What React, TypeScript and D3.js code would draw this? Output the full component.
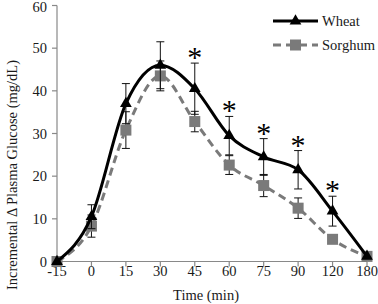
import { useEffect, useRef } from "react";
import * as d3 from "d3";

const times: string[] = ["-15", "0", "15", "30", "45", "60", "75", "90", "120", "180"];
const wheat: number[] = [0, 10.5, 37, 46, 40.5, 29.5, 24.5, 21.5, 11.8, 1.2];
const wheatErr: number[] = [0, 2.8, 4.7, 5.5, 6, 4.5, 4.3, 4.5, 3.5, 0];
const sorghum: number[] = [0, 8.3, 30.8, 43.5, 32.8, 22.6, 17.8, 12.5, 5.2, 1.2];
const sorghumErr: number[] = [0, 2.6, 4.3, 3.5, 2.4, 2.2, 2.6, 2.4, 0, 0];
const significant: string[] = ["45", "60", "75", "90", "120"];
const yTicks: number[] = [0, 10, 20, 30, 40, 50, 60];

const FONT = "'Liberation Serif', 'Times New Roman', serif";
const AXIS = "#898989";
const GRAY = "#7a7a7a";
const TEXT = "#1a1a1a";

function App() {
  const svgRef = useRef<SVGSVGElement>(null);

  useEffect(() => {
    if (!svgRef.current) return;
    const svg = d3.select(svgRef.current);
    svg.selectAll("*").remove();

    const width = 378;
    const height = 304;
    svg.attr("width", width).attr("height", height);

    // scales
    const x = d3.scalePoint<string>().domain(times).range([57, 367]);
    const y = d3.scaleLinear().domain([0, 60]).range([261.5, 5.5]);

    // y axis
    svg.append("line")
      .attr("x1", 57).attr("x2", 57)
      .attr("y1", y(60)).attr("y2", y(0))
      .attr("stroke", AXIS).attr("stroke-width", 1.2);
    svg.selectAll(".ytick")
      .data(yTicks)
      .join("line")
      .attr("x1", 52).attr("x2", 57)
      .attr("y1", (d) => y(d)).attr("y2", (d) => y(d))
      .attr("stroke", AXIS).attr("stroke-width", 1.2);
    svg.selectAll(".ylab")
      .data(yTicks)
      .join("text")
      .attr("x", 47)
      .attr("y", (d) => Math.max(y(d), 7))
      .attr("dy", "0.35em")
      .attr("text-anchor", "end")
      .attr("font-family", FONT)
      .attr("font-size", 14.5)
      .attr("fill", TEXT)
      .text((d) => d);

    // x axis
    svg.append("line")
      .attr("x1", 57).attr("x2", 367)
      .attr("y1", y(0)).attr("y2", y(0))
      .attr("stroke", AXIS).attr("stroke-width", 1.2);
    svg.selectAll(".xtick")
      .data(times)
      .join("line")
      .attr("x1", (d) => x(d)!).attr("x2", (d) => x(d)!)
      .attr("y1", y(0)).attr("y2", y(0) + 5)
      .attr("stroke", AXIS).attr("stroke-width", 1.2);
    svg.selectAll(".xlab")
      .data(times)
      .join("text")
      .attr("x", (d) => x(d)!)
      .attr("y", 271)
      .attr("dy", "0.35em")
      .attr("text-anchor", "middle")
      .attr("font-family", FONT)
      .attr("font-size", 14.5)
      .attr("fill", TEXT)
      .text((d) => d);

    // axis titles
    svg.append("text")
      .attr("x", 206).attr("y", 295)
      .attr("dy", "0.35em")
      .attr("text-anchor", "middle")
      .attr("font-family", FONT)
      .attr("font-size", 14.5)
      .attr("fill", TEXT)
      .text("Time (min)");
    svg.append("text")
      .attr("transform", `translate(12,175) rotate(-90)`)
      .attr("dy", "0.35em")
      .attr("text-anchor", "middle")
      .attr("font-family", FONT)
      .attr("font-size", 14.5)
      .attr("fill", TEXT)
      .text("Incremental Δ Plasma Glucose (mg/dL)");

    const line = d3.line<number>()
      .x((_, i) => x(times[i])!)
      .y((d) => y(d))
      .curve(d3.curveMonotoneX);

    // error bars
    const drawErr = (vals: number[], errs: number[]) => {
      const g = svg.append("g").attr("stroke", "#111").attr("stroke-width", 1);
      vals.forEach((v, i) => {
        if (!errs[i]) return;
        const cx = x(times[i])!;
        const lo = y(v - errs[i]);
        const hi = y(v + errs[i]);
        g.append("line").attr("x1", cx).attr("x2", cx).attr("y1", lo).attr("y2", hi);
        g.append("line").attr("x1", cx - 4).attr("x2", cx + 4).attr("y1", lo).attr("y2", lo);
        g.append("line").attr("x1", cx - 4).attr("x2", cx + 4).attr("y1", hi).attr("y2", hi);
      });
    };

    // sorghum
    svg.append("path")
      .attr("d", line(sorghum)!)
      .attr("fill", "none")
      .attr("stroke", GRAY)
      .attr("stroke-width", 3)
      .attr("stroke-dasharray", "8,5");
    drawErr(sorghum, sorghumErr);
    svg.selectAll(".sq")
      .data(sorghum)
      .join("rect")
      .attr("x", (_, i) => x(times[i])! - 5.5)
      .attr("y", (d) => y(d) - 5.5)
      .attr("width", 11).attr("height", 11)
      .attr("fill", GRAY);

    // wheat
    svg.append("path")
      .attr("d", line(wheat)!)
      .attr("fill", "none")
      .attr("stroke", "#000")
      .attr("stroke-width", 3);
    drawErr(wheat, wheatErr);
    const tri = d3.symbol(d3.symbolTriangle, 60);
    svg.selectAll(".tri")
      .data(wheat)
      .join("path")
      .attr("d", tri()!)
      .attr("transform", (d, i) => `translate(${x(times[i])},${y(d)})`)
      .attr("fill", "#000");

    // significance asterisks
    svg.selectAll(".star")
      .data(significant)
      .join("text")
      .attr("x", (d) => x(d)!)
      .attr("y", (d) => {
        const i = times.indexOf(d);
        return y(wheat[i] + wheatErr[i]) + 4;
      })
      .attr("text-anchor", "middle")
      .attr("font-family", FONT)
      .attr("font-size", 30)
      .text("*");

    // legend
    const legend = [
      { name: "Wheat", color: "#000", dash: null, y: 21 },
      { name: "Sorghum", color: GRAY, dash: "8,5", y: 45 },
    ];
    legend.forEach((l) => {
      svg.append("line")
        .attr("x1", 273).attr("x2", 318)
        .attr("y1", l.y).attr("y2", l.y)
        .attr("stroke", l.color).attr("stroke-width", 3)
        .attr("stroke-dasharray", l.dash);
      if (l.name === "Wheat") {
        svg.append("path").attr("d", tri()!)
          .attr("transform", `translate(295.5,${l.y})`).attr("fill", "#000");
      } else {
        svg.append("rect").attr("x", 290).attr("y", l.y - 5.5)
          .attr("width", 11).attr("height", 11).attr("fill", GRAY);
      }
      svg.append("text")
        .attr("x", 322).attr("y", l.y)
        .attr("dy", "0.35em")
        .attr("font-family", FONT)
        .attr("font-size", 14.5)
        .attr("fill", TEXT)
        .text(l.name);
    });
  }, []);

  return <svg ref={svgRef} style={{ position: "absolute", left: 0, top: 0 }}></svg>;
}

export default App;
